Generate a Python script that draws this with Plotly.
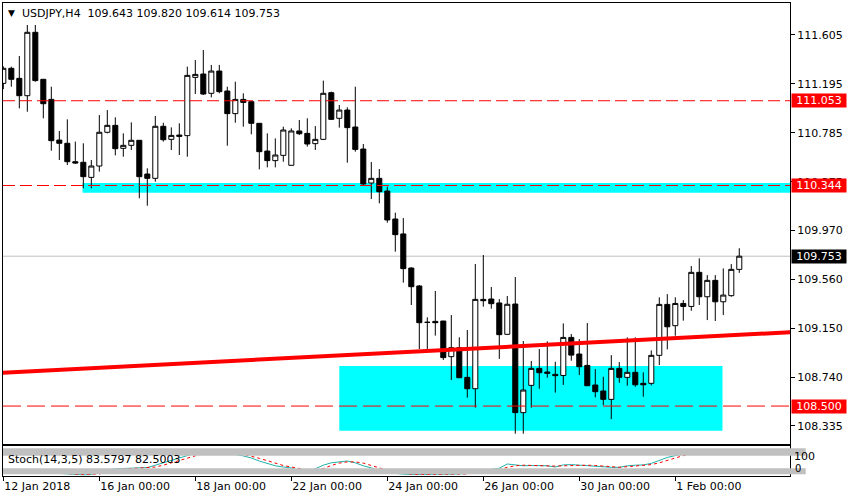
import plotly.graph_objects as go

# USDJPY H4 bars, 12 Jan 2018 00:00 .. 2 Feb 2018 04:00 (bar index on x)
bars = list(range(93))

opens = [111.198, 111.324, 111.240, 111.095, 111.625, 111.232, 111.064, 110.724, 110.697, 110.543,
         110.538, 110.412, 110.507, 110.789, 110.847, 110.655, 110.680, 110.722, 110.440, 110.404,
         110.839, 110.730, 110.766, 110.761, 111.248, 111.276, 111.115, 111.301, 111.134, 110.945,
         111.064, 111.045, 110.864, 110.632, 110.552, 110.596, 110.513, 110.800, 110.780, 110.694,
         110.730, 111.120, 110.906, 110.975, 110.833, 110.649, 110.365, 110.404, 110.298, 110.064,
         109.939, 109.654, 109.504, 109.200, 109.208, 109.211, 108.913, 108.988, 108.740, 108.645,
         109.392, 109.395, 109.362, 109.100, 109.353, 108.445, 108.673, 108.815, 108.785, 108.765,
         108.756, 109.074, 108.935, 108.840, 108.676, 108.626, 108.556, 108.815, 108.740, 108.782,
         108.690, 108.690, 108.924, 109.350, 109.172, 109.358, 109.333, 109.618, 109.414, 109.551,
         109.372, 109.423, 109.643]
highs = [111.340, 111.338, 111.427, 111.686, 111.686, 111.232, 111.170, 110.800, 110.897, 110.711,
         110.697, 110.557, 110.933, 110.975, 110.914, 110.780, 110.872, 110.722, 110.488, 110.925,
         110.869, 110.830, 110.864, 111.338, 111.393, 111.477, 111.352, 111.352, 111.170, 111.212,
         111.115, 111.045, 110.864, 110.780, 110.738, 110.836, 110.822, 110.892, 110.906, 110.841,
         111.221, 111.129, 111.017, 110.998, 111.170, 110.691, 110.540, 110.482, 110.334, 110.117,
         110.072, 109.660, 109.512, 109.242, 109.462, 109.211, 109.261, 109.075, 109.136, 109.688,
         109.763, 109.496, 109.395, 109.420, 109.579, 109.044, 108.877, 108.977, 109.041, 108.871,
         109.191, 109.102, 109.060, 109.194, 108.809, 108.745, 108.926, 108.868, 109.074, 109.074,
         108.782, 108.965, 109.409, 109.436, 109.409, 109.386, 109.671, 109.735, 109.595, 109.595,
         109.651, 109.687, 109.820]
lows = [111.150, 111.170, 110.989, 110.961, 111.212, 110.906, 110.635, 110.557, 110.515, 110.524,
        110.320, 110.320, 110.460, 110.780, 110.596, 110.585, 110.641, 110.237, 110.175, 110.376,
        110.711, 110.641, 110.599, 110.585, 111.109, 111.101, 111.081, 111.115, 110.677, 110.869,
        110.836, 110.772, 110.479, 110.496, 110.496, 110.543, 110.510, 110.766, 110.669, 110.641,
        110.724, 110.892, 110.828, 110.535, 110.627, 110.348, 110.231, 110.195, 110.033, 109.791,
        109.532, 109.345, 108.977, 108.969, 109.089, 108.885, 108.718, 108.737, 108.570, 108.487,
        109.331, 109.314, 108.894, 109.094, 108.269, 108.269, 108.487, 108.645, 108.737, 108.612,
        108.676, 108.879, 108.759, 108.670, 108.573, 108.508, 108.391, 108.695, 108.670, 108.662,
        108.578, 108.673, 108.843, 108.974, 109.088, 109.214, 109.297, 109.345, 109.219, 109.211,
        109.261, 109.414, 109.614]
closes = [111.324, 111.232, 111.095, 111.625, 111.221, 111.028, 110.719, 110.697, 110.543, 110.532,
          110.418, 110.507, 110.789, 110.847, 110.652, 110.680, 110.722, 110.418, 110.404, 110.839,
          110.727, 110.763, 110.755, 111.265, 111.273, 111.109, 111.301, 111.129, 110.945, 111.064,
          111.039, 110.864, 110.627, 110.552, 110.599, 110.808, 110.800, 110.777, 110.691, 110.730,
          111.115, 110.897, 110.975, 110.828, 110.646, 110.357, 110.404, 110.292, 110.056, 109.933,
          109.649, 109.498, 109.197, 109.200, 109.197, 108.905, 108.988, 108.737, 108.645, 109.392,
          109.381, 109.356, 109.097, 109.351, 108.445, 108.634, 108.815, 108.779, 108.774, 108.754,
          109.074, 108.926, 108.829, 108.670, 108.620, 108.556, 108.815, 108.740, 108.782, 108.678,
          108.678, 108.924, 109.350, 109.163, 109.358, 109.333, 109.618, 109.414, 109.551, 109.372,
          109.428, 109.643, 109.753]

# Stochastic(14,3,5) main and signal lines
stoch_main = [18, 14, 12, 20, 18, 14, 10, 8, 6, 5, 4, 5, 12, 20,
              24, 25, 26, 26, 28, 36, 44, 52, 60, 68,
              78, 84, 88, 86, 80, 72, 67, 60, 50, 42,
              34, 30, 27, 18, 16, 24, 36, 44, 48, 50,
              44, 34, 27, 18, 12, 8, 6, 5, 4, 5,
              6, 5, 6, 7, 8, 14, 18, 20, 26, 40,
              36, 34, 35, 35, 34, 30, 37, 38, 36, 35,
              34, 30, 29, 29, 34, 36, 37, 42, 52, 62,
              68, 74, 78, 80, 82, 83, 82, 84, 83.58]
stoch_signal = [20, 17, 14, 15, 17, 17, 14, 11, 8, 6, 5, 5, 7, 12,
                19, 23, 25, 26, 27, 30, 36, 44, 52, 60,
                69, 77, 83, 86, 85, 79, 73, 66, 59, 51,
                42, 35, 30, 25, 20, 19, 25, 35, 43, 47,
                47, 43, 35, 26, 19, 13, 9, 6, 5, 5,
                5, 5, 6, 6, 7, 10, 13, 17, 21, 29,
                34, 36, 35, 35, 35, 33, 34, 35, 37, 36,
                35, 33, 31, 29, 31, 33, 36, 38, 44, 52,
                61, 68, 73, 77, 79, 81, 82, 83, 82.50]

date_tick_bars = [0, 12, 24, 36, 48, 60, 72, 84]
date_tick_labels = ["12 Jan 2018", "16 Jan 00:00", "18 Jan 00:00", "22 Jan 00:00",
                    "24 Jan 00:00", "26 Jan 00:00", "30 Jan 00:00", "1 Feb 00:00"]
price_ticks = [111.605, 111.195, 110.785, 110.375, 109.970, 109.560, 109.150, 108.740, 108.335]

level_prices = [111.053, 110.344, 108.500]
bid_price = 109.753

upper_zone_bars = [9.9, 100]
upper_zone_prices = [110.284, 110.364]
lower_zone_bars = [42, 89.9]
lower_zone_prices = [108.293, 108.835]
trend_bars = [0, 98]
trend_prices = [108.779, 109.116]

font = "DejaVu Sans"

fig = go.Figure()
fig.add_trace(go.Candlestick(
    x=bars, open=opens, high=highs, low=lows, close=closes,
    increasing=dict(fillcolor="white", line=dict(color="black", width=1)),
    decreasing=dict(fillcolor="black", line=dict(color="black", width=1)),
    whiskerwidth=0, xaxis="x", yaxis="y", hoverinfo="skip"))
fig.add_trace(go.Scatter(x=bars, y=stoch_main, mode="lines", xaxis="x2", yaxis="y2",
                         line=dict(color="#20B2AA", width=1)))
fig.add_trace(go.Scatter(x=bars, y=stoch_signal, mode="lines", xaxis="x2", yaxis="y2",
                         line=dict(color="red", width=1, dash="dot")))

shapes = []
# zones
shapes.append(dict(type="rect", xref="x", yref="y", layer="below", line_width=0, fillcolor="#00FFFF",
                   x0=upper_zone_bars[0], x1=upper_zone_bars[1], y0=upper_zone_prices[0], y1=upper_zone_prices[1]))
shapes.append(dict(type="rect", xref="x", yref="y", layer="below", line_width=0, fillcolor="#00FFFF",
                   x0=lower_zone_bars[0], x1=lower_zone_bars[1], y0=lower_zone_prices[0], y1=lower_zone_prices[1]))
# bid line
shapes.append(dict(type="line", xref="x domain", yref="y", layer="below", x0=0, x1=1,
                   y0=bid_price, y1=bid_price, line=dict(color="#C0C0C0", width=1)))
# horizontal levels
for p, d in zip(level_prices, ["12px,5px", "12px,5px", "18px,6px"]):
    shapes.append(dict(type="line", xref="x domain", yref="y", layer="above", x0=0, x1=1,
                       y0=p, y1=p, line=dict(color="red", width=1, dash=d)))
# trend line
slope = (trend_prices[1] - trend_prices[0]) / (trend_bars[1] - trend_bars[0])
shapes.append(dict(type="line", xref="x", yref="y", layer="above",
                   x0=trend_bars[0] - 1, x1=trend_bars[1] + 1,
                   y0=trend_prices[0] - slope, y1=trend_prices[1] + slope,
                   line=dict(color="red", width=4)))
# stochastic level bands
for lo, hi in [(67.7, 92.3), (5.7, 25.7)]:
    shapes.append(dict(type="rect", xref="paper", yref="y2", layer="above", line_width=0,
                       fillcolor="#C0C0C0", x0=0, x1=1.02, y0=lo, y1=hi))

annotations = []
for p in level_prices:
    annotations.append(dict(xref="paper", yref="y", x=1, y=p, xanchor="left", yanchor="middle",
                            xshift=1, text=f"{p:.3f}", showarrow=False, bgcolor="red",
                            font=dict(family=font, size=11, color="white"),
                            width=52, height=11, borderpad=1))
annotations.append(dict(xref="paper", yref="y", x=1, y=bid_price, xanchor="left", yanchor="middle",
                        xshift=1, text=f"{bid_price:.3f}", showarrow=False, bgcolor="black",
                        font=dict(family=font, size=11, color="white"),
                        width=52, height=11, borderpad=1))
annotations.append(dict(xref="paper", yref="paper", x=0, y=1, xanchor="left", yanchor="top",
                        xshift=3, yshift=-3, text="▼", showarrow=False,
                        font=dict(family=font, size=9, color="black")))
annotations.append(dict(xref="paper", yref="paper", x=0, y=1, xanchor="left", yanchor="top",
                        xshift=17, yshift=-2,
                        text="USDJPY,H4  %.3f %.3f %.3f %.3f" % (opens[-1], highs[-1], lows[-1], closes[-1]),
                        showarrow=False, font=dict(family=font, size=11, color="black")))
annotations.append(dict(xref="paper", yref="y2 domain", x=0, y=0.5, xanchor="left", yanchor="middle",
                        xshift=3, yshift=2,
                        text="Stoch(14,3,5) %.4f %.4f" % (83.5797, 82.5003),
                        showarrow=False, font=dict(family=font, size=11, color="black")))
annotations.append(dict(xref="paper", yref="y2 domain", x=1, y=0.66, xanchor="left", yanchor="middle",
                        xshift=2, text="100", showarrow=False,
                        font=dict(family=font, size=11, color="black")))
annotations.append(dict(xref="paper", yref="y2 domain", x=1, y=0.24, xanchor="left", yanchor="middle",
                        xshift=3, text="0", showarrow=False,
                        font=dict(family=font, size=10, color="black")))

axis_common = dict(showgrid=False, zeroline=False, showline=True, mirror=True,
                   linecolor="black", linewidth=1)

fig.update_layout(
    width=850, height=500,
    margin=dict(l=3, r=60, t=3, b=24),
    paper_bgcolor="white", plot_bgcolor="white",
    showlegend=False, boxgap=0.1, boxgroupgap=0.3,
    font=dict(family=font, size=11, color="black"),
    xaxis=dict(domain=[0, 1], anchor="y", range=[-0.04, 98.34], showticklabels=False,
               ticks="", rangeslider=dict(visible=False), **axis_common),
    xaxis2=dict(domain=[0, 1], anchor="y2", matches="x", range=[-0.04, 98.34],
                tickvals=date_tick_bars, ticktext=date_tick_labels, ticks="outside", ticklen=4,
                tickcolor="black", ticklabelposition="outside right",
                tickfont=dict(family=font, size=11, color="black"), **axis_common),
    yaxis=dict(domain=[0.0677, 1], anchor="x", side="right", range=[108.183, 111.870],
               tickvals=price_ticks, tickformat=".3f", ticks="outside", ticklen=4,
               tickcolor="black", tickfont=dict(family=font, size=11, color="black"), **axis_common),
    yaxis2=dict(domain=[0, 0.0634], anchor="x2", side="right", range=[0, 100],
                showticklabels=False, ticks="", **axis_common),
    shapes=shapes, annotations=annotations,
)

fig.write_html("out.html", config={"displayModeBar": False},
               post_script="document.body.style.margin='0';")
